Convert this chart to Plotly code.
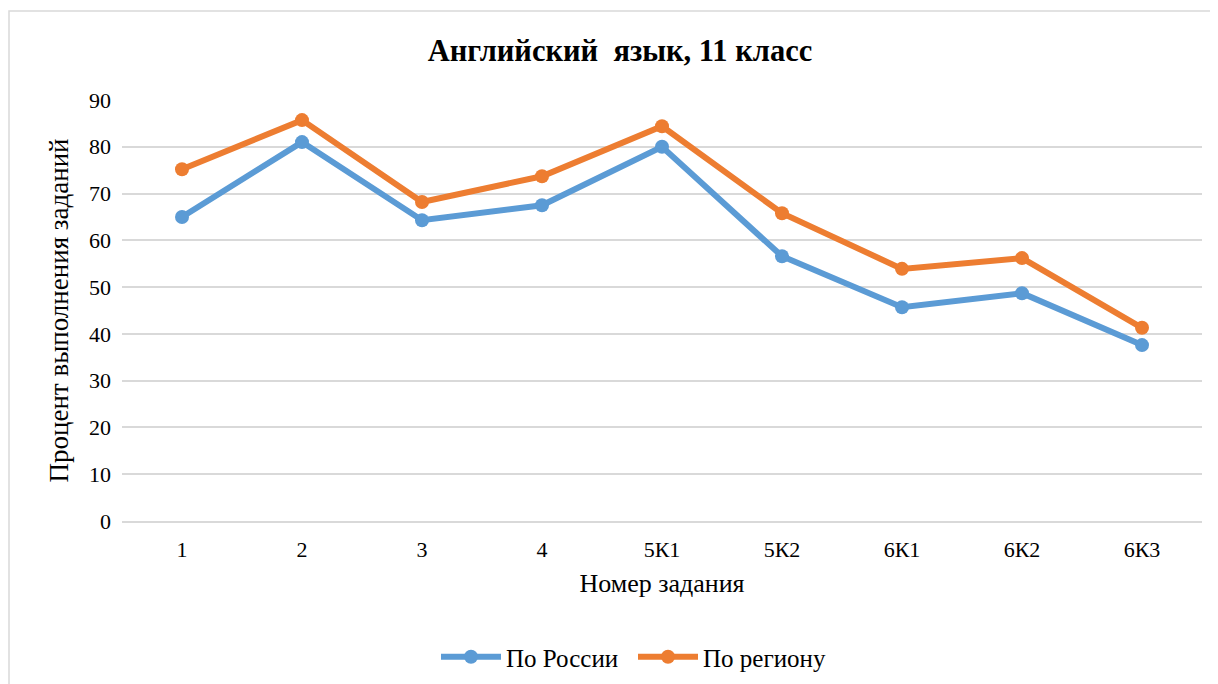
import plotly.graph_objects as go

categories = ["1", "2", "3", "4", "5К1", "5К2", "6К1", "6К2", "6К3"]
russia = [65.0, 81.0, 64.3, 67.5, 80.0, 56.6, 45.7, 48.7, 37.6]
region = [75.2, 85.7, 68.2, 73.7, 84.4, 65.8, 53.9, 56.2, 41.3]
y_ticks = [0, 10, 20, 30, 40, 50, 60, 70, 80, 90]

# page body has an 8px margin; compensate so the figure lands where the reference is
OFF = 8
W, H = 1218 - OFF, 684 - OFF
ml, mr, mt, mb = 122 - OFF, 16, 100 - OFF, 684 - 521
PW, PH = W - ml - mr, H - mt - mb

FF = "Liberation Serif, Times New Roman, serif"

fig = go.Figure()
fig.add_trace(go.Scatter(x=categories, y=russia, name="По России", mode="lines+markers",
                         line=dict(color="#5B9BD5", width=6),
                         marker=dict(size=14, color="#5B9BD5")))
fig.add_trace(go.Scatter(x=categories, y=region, name="По региону", mode="lines+markers",
                         line=dict(color="#ED7D31", width=6),
                         marker=dict(size=14, color="#ED7D31")))

fig.update_layout(
    width=W, height=H,
    margin=dict(l=ml, r=mr, t=mt, b=mb, autoexpand=False),
    paper_bgcolor="white", plot_bgcolor="white",
    font=dict(family=FF, color="#000000", size=22),
    title=dict(text="<b>Английский  язык, 11 класс</b>", x=(620 - OFF) / W, xanchor="center",
               y=1 - (50 - OFF) / H, yanchor="middle",
               font=dict(size=30.5, family=FF, color="#000000")),
    xaxis=dict(type="category", range=[-0.5, 8.5], showgrid=False, showline=True,
               linecolor="#D9D9D9", linewidth=1.5, ticks="",
               tickfont=dict(size=22, family=FF, color="#000000"),
               automargin=False, ticklabelstandoff=8,
               title=dict(text="Номер задания", font=dict(size=26, family=FF, color="#000000"),
                          standoff=13)),
    yaxis=dict(range=[0, 90], tickvals=y_ticks, showgrid=True, gridcolor="#D9D9D9",
               gridwidth=2, zeroline=False, showline=False, ticks="",
               tickfont=dict(size=22, family=FF, color="#000000"),
               ticklabelstandoff=10, automargin=False,
               title=dict(text="Процент выполнения заданий",
                          font=dict(size=27, family=FF, color="#000000"), standoff=12)),
    legend=dict(orientation="h", x=(436 - 122) / PW, xanchor="left", y=-(657 - 521) / PH,
                yanchor="middle", font=dict(size=25, family=FF, color="#000000"),
                itemwidth=60, entrywidthmode="pixels", entrywidth=122),
    showlegend=True,
    shapes=[dict(type="rect", xref="paper", yref="paper",
                 x0=-(ml - 1) / PW, x1=1 + (mr + 30) / PW,
                 y0=-(mb + 30) / PH, y1=1 + (mt - 3) / PH,
                 line=dict(color="#D9D9D9", width=1.5), layer="below")],
)

fig.write_html("out.html")
